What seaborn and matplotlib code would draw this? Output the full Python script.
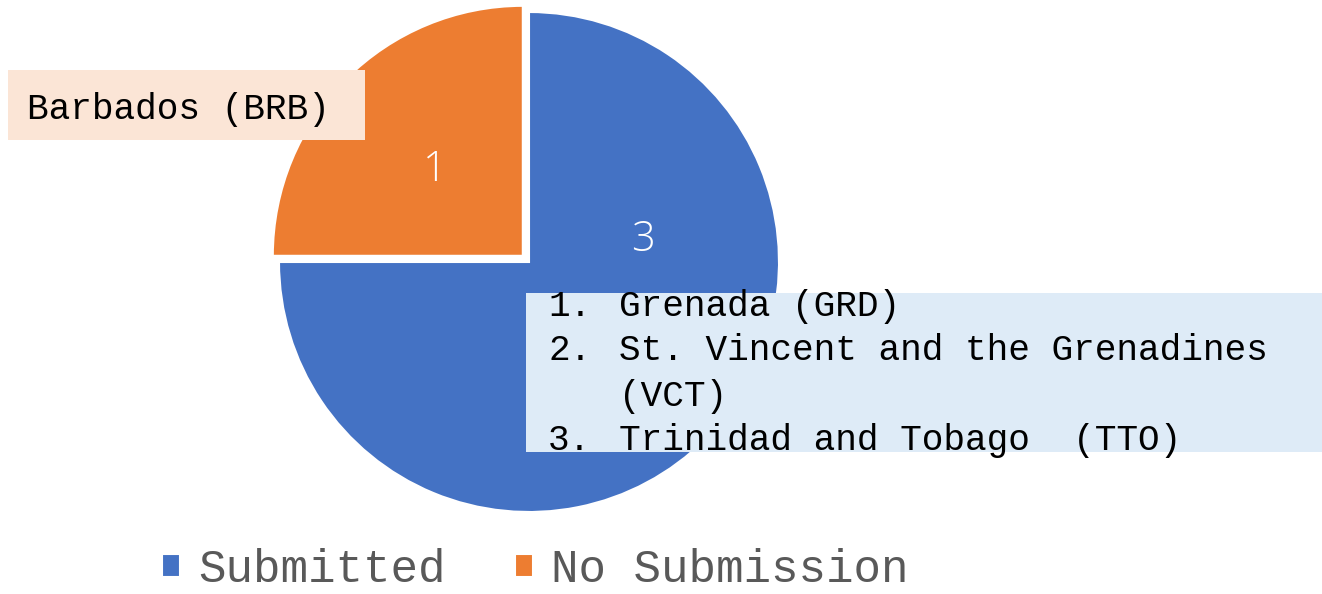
import matplotlib
matplotlib.use("Agg")
import matplotlib.pyplot as plt
import seaborn as sns
from matplotlib.patches import Rectangle

sns.set_theme(style="white")
plt.rcParams['font.family'] = ['Liberation Mono', 'DejaVu Sans Mono']

# dados
categorias = ["Submitted", "No Submission"]
valores = [3, 1]
cores = ["#4472C4", "#ED7D31"]
paises_nao = ["Barbados (BRB)"]
paises_sim = ["Grenada (GRD)", "St. Vincent and the Grenadines", "Trinidad and Tobago  (TTO)"]

fig = plt.figure(figsize=(13.22, 5.94), dpi=100)
ax = fig.add_axes([0, 0, 1, 1])

wedges, textos, autotextos = ax.pie(
    valores, colors=cores, startangle=90, counterclock=False,
    explode=[0, 0.035], radius=1, center=(0, 0), frame=True,
    autopct=lambda p: f"{p * sum(valores) / 100:.0f}", pctdistance=0.5,
    wedgeprops=dict(edgecolor="white", linewidth=1.5),
    textprops=dict(color="white", fontsize=30, family="Open Sans", fontweight="light"))
# 1 unidade = 250 px, centro do pie em (529, 262) px
ax.set_xlim(-529 / 250, (1322 - 529) / 250)
ax.set_ylim(-(594 - 262) / 250, 262 / 250)
ax.set_aspect("equal")
ax.axis("off")

# rótulos movidos manualmente (como no original)
autotextos[0].set_position((0.456, 0.09))
autotextos[1].set_position((-0.376, 0.37))

# caixa Barbados
ax.add_patch(Rectangle((-2.084, 0.488), 1.428, 0.28, facecolor="#FBE5D6", edgecolor="none", zorder=3))
ax.text(-2.008, 0.61, paises_nao[0], fontsize=26, color="black", va="center", ha="left", zorder=4)

# caixa países que submeteram
ax.add_patch(Rectangle((-0.012, -0.76), 3.2, 0.636, facecolor="#DEEBF7", edgecolor="none", zorder=3))
linhas = [("1.", paises_sim[0]), ("2.", paises_sim[1]), ("", "(VCT)"), ("3.", paises_sim[2])]
for i, (num, txt) in enumerate(linhas):
    y = -0.176 - 0.18 * i
    ax.text(0.076, y, num, fontsize=26, color="black", va="center", ha="left", zorder=4)
    ax.text(0.36, y, txt, fontsize=26, color="black", va="center", ha="left", zorder=4)

leg = fig.legend(wedges, categorias, loc="center", bbox_to_anchor=(0.405, 0.04),
                 ncol=2, frameon=False, fontsize=33, handlelength=0.4, handleheight=0.4,
                 handletextpad=0.4, columnspacing=1.5, borderpad=0.1)
for t in leg.get_texts():
    t.set_color("#595959")

plt.savefig("out.png", dpi=100)
